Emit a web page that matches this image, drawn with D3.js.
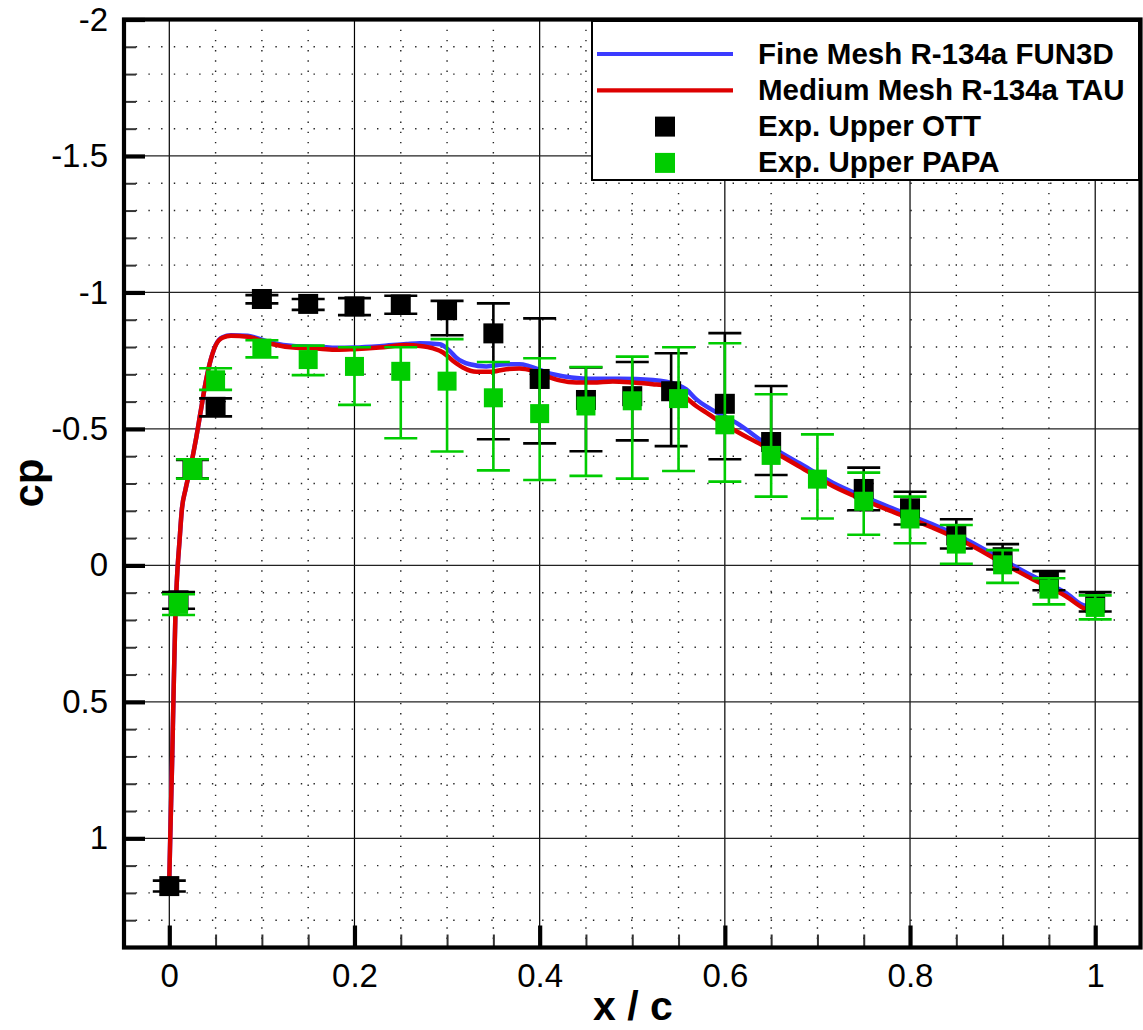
<!DOCTYPE html>
<html>
<head>
<meta charset="utf-8">
<script src="https://cdn.jsdelivr.net/npm/d3@7"></script>
<style>
  html, body { margin: 0; padding: 0; background: #fff; }
  svg { display: block; }
  text { font-family: "Liberation Sans", Arial, Helvetica, sans-serif; }
</style>
</head>
<body>
<svg id="chart" width="1143" height="1030"></svg>
<script>
// ---------------- data ----------------
const seriesNames = ["Fine Mesh R-134a FUN3D", "Medium Mesh R-134a TAU", "Exp. Upper OTT", "Exp. Upper PAPA"];

// TAU (medium mesh) upper-surface cp
const tauX = [0, 0.001, 0.003, 0.0047, 0.0066, 0.0083, 0.011, 0.0137, 0.0175, 0.0229, 0.0284, 0.0338, 0.0393, 0.0447, 0.0502, 0.0574, 0.0666, 0.0846, 0.0943, 0.112, 0.134, 0.1626, 0.1806, 0.1986, 0.227, 0.256, 0.2706, 0.285, 0.2957, 0.3065, 0.317, 0.3317, 0.346, 0.364, 0.378, 0.393, 0.407, 0.4216, 0.4396, 0.4575, 0.479, 0.5007, 0.522, 0.5367, 0.5475, 0.558, 0.569, 0.58, 0.5907, 0.6086, 0.6446, 0.6806, 0.7165, 0.7526, 0.7885, 0.8245, 0.8605, 0.8964, 0.9324, 0.9684, 0.99, 1.0];
const tauCp = [1.15, 1.0, 0.726, 0.455, 0.183, 0.048, -0.088, -0.209, -0.278, -0.359, -0.455, -0.562, -0.671, -0.753, -0.807, -0.834, -0.841, -0.838, -0.829, -0.81, -0.798, -0.794, -0.79, -0.792, -0.798, -0.807, -0.804, -0.795, -0.78, -0.749, -0.725, -0.709, -0.709, -0.719, -0.721, -0.712, -0.694, -0.678, -0.67, -0.67, -0.674, -0.67, -0.664, -0.658, -0.645, -0.615, -0.584, -0.56, -0.535, -0.499, -0.432, -0.362, -0.291, -0.236, -0.187, -0.138, -0.083, -0.016, 0.051, 0.113, 0.161, 0.17];

// FUN3D (fine mesh) upper-surface cp
const fun3dX = [0, 0.001, 0.003, 0.0047, 0.0066, 0.0083, 0.011, 0.0137, 0.0175, 0.0229, 0.0284, 0.0338, 0.0393, 0.0447, 0.0502, 0.0574, 0.0666, 0.0846, 0.0943, 0.112, 0.134, 0.1626, 0.1806, 0.1986, 0.227, 0.256, 0.2706, 0.2921, 0.3029, 0.31, 0.3245, 0.3425, 0.364, 0.378, 0.4144, 0.4504, 0.4863, 0.5223, 0.5475, 0.5583, 0.569, 0.5835, 0.6015, 0.612, 0.6446, 0.6806, 0.7165, 0.7526, 0.7885, 0.8245, 0.8605, 0.8964, 0.9324, 0.9684, 0.99, 1.0];
const fun3dCp = [1.15, 1.0, 0.726, 0.455, 0.183, 0.048, -0.088, -0.209, -0.278, -0.359, -0.455, -0.562, -0.671, -0.753, -0.808, -0.836, -0.843, -0.841, -0.833, -0.815, -0.804, -0.801, -0.797, -0.798, -0.803, -0.811, -0.814, -0.81, -0.786, -0.761, -0.737, -0.729, -0.737, -0.737, -0.7, -0.684, -0.684, -0.679, -0.663, -0.645, -0.609, -0.575, -0.542, -0.523, -0.445, -0.374, -0.303, -0.248, -0.199, -0.15, -0.095, -0.028, 0.039, 0.101, 0.148, 0.10];

// Experiment OTT (black): x, cp, lower / upper error bounds
const ottX  = [0, 0.01, 0.025, 0.05, 0.1, 0.15, 0.2, 0.25, 0.3, 0.35, 0.4, 0.45, 0.5, 0.542, 0.6, 0.65, 0.75, 0.8, 0.85, 0.9, 0.95, 1.0];
const ottCp = [1.175, 0.128, -0.352, -0.581, -0.976, -0.958, -0.949, -0.956, -0.935, -0.85, -0.683, -0.606, -0.62, -0.638, -0.592, -0.452, -0.28, -0.209, -0.11, -0.03, 0.06, 0.138];
const ottLo = [1.155, 0.098, -0.386, -0.612, -0.99, -0.976, -0.979, -0.988, -0.969, -0.96, -0.905, -0.725, -0.745, -0.777, -0.851, -0.657, -0.358, -0.27, -0.169, -0.078, 0.021, 0.098];
const ottHi = [1.195, 0.159, -0.319, -0.546, -0.96, -0.936, -0.917, -0.922, -0.843, -0.462, -0.447, -0.418, -0.458, -0.437, -0.389, -0.331, -0.202, -0.15, -0.062, 0.015, 0.091, 0.169];

// Experiment PAPA (green)
const papaX  = [0.01, 0.025, 0.05, 0.1, 0.15, 0.2, 0.25, 0.3, 0.35, 0.4, 0.45, 0.5, 0.55, 0.6, 0.65, 0.7, 0.75, 0.8, 0.85, 0.9, 0.95, 1.0];
const papaCp = [0.143, -0.352, -0.68, -0.796, -0.754, -0.729, -0.711, -0.675, -0.614, -0.556, -0.584, -0.603, -0.611, -0.515, -0.403, -0.316, -0.235, -0.17, -0.078, -0.002, 0.087, 0.154];
const papaLo = [0.106, -0.389, -0.722, -0.825, -0.805, -0.799, -0.799, -0.829, -0.745, -0.759, -0.727, -0.765, -0.799, -0.814, -0.627, -0.48, -0.34, -0.252, -0.148, -0.056, 0.047, 0.11];
const papaHi = [0.182, -0.318, -0.643, -0.762, -0.697, -0.588, -0.466, -0.417, -0.348, -0.313, -0.328, -0.318, -0.346, -0.307, -0.252, -0.172, -0.112, -0.081, -0.006, 0.064, 0.143, 0.198];

// axis ticks
const xMajor = [0, 0.2, 0.4, 0.6, 0.8, 1];
const xLabels = ["0", "0.2", "0.4", "0.6", "0.8", "1"];
const yMajor = [-2, -1.5, -1, -0.5, 0, 0.5, 1];
const yLabels = ["-2", "-1.5", "-1", "-0.5", "0", "0.5", "1"];

// ---------------- chart ----------------
const svg = d3.select("#chart");
const L = 123, R = 1141.5, T = 19.5, B = 947.5;
const x = d3.scaleLinear().domain([-0.05, 1.05]).range([L, R]);
const y = d3.scaleLinear().domain([-2, 1.4]).range([T, B]);

const BLUE = "#3b3bff", RED = "#dd0000", GREEN = "#00cc00";

// minor dotted grid
const xMinor = d3.range(-0.05, 1.05001, 0.05).map(v => +v.toFixed(2)).filter(v => v > -0.05 && v < 1.05 && !xMajor.some(m => Math.abs(m - v) < 1e-6));
const yMinor = d3.range(-1.9, 1.35, 0.1).map(v => +v.toFixed(1)).filter(v => !yMajor.some(m => Math.abs(m - v) < 1e-6));
const grid = svg.append("g");
grid.selectAll(".vminor").data(xMinor).join("line")
  .attr("x1", d => x(d)).attr("x2", d => x(d)).attr("y1", T).attr("y2", B)
  .attr("stroke", "#222").attr("stroke-width", 1.4).attr("stroke-dasharray", "1.4 8.8");
grid.selectAll(".hminor").data(yMinor).join("line")
  .attr("x1", L).attr("x2", R).attr("y1", d => y(d)).attr("y2", d => y(d))
  .attr("stroke", "#222").attr("stroke-width", 1.4).attr("stroke-dasharray", "1.4 11.3");
// major grid
grid.selectAll(".vmajor").data(xMajor).join("line")
  .attr("x1", d => x(d)).attr("x2", d => x(d)).attr("y1", T).attr("y2", B)
  .attr("stroke", "#000").attr("stroke-width", 1.2);
grid.selectAll(".hmajor").data(yMajor).join("line")
  .attr("x1", L).attr("x2", R).attr("y1", d => y(d)).attr("y2", d => y(d))
  .attr("stroke", "#222").attr("stroke-width", 1.2);

// ticks (inward) via d3 axes
const xMinorTicks = d3.range(0, 1.0001, 0.05).map(v => +v.toFixed(2)).filter(v => !xMajor.some(m => Math.abs(m - v) < 1e-6));
const yMinorTicks = d3.range(-2, 1.4, 0.1).map(v => +v.toFixed(1)).filter(v => !yMajor.some(m => Math.abs(m - v) < 1e-6));

function styleTicks(g, w, col) {
  g.select(".domain").remove();
  g.selectAll(".tick line").attr("stroke", col).attr("stroke-width", w);
  g.selectAll(".tick text").remove();
}
svg.append("g").attr("transform", `translate(0,${B})`)
  .call(d3.axisBottom(x).tickValues(xMinorTicks).tickSize(-13))
  .call(g => styleTicks(g, 2, "#333"));
svg.append("g").attr("transform", `translate(0,${B})`)
  .call(d3.axisBottom(x).tickValues(xMajor).tickSize(-22))
  .call(g => styleTicks(g, 4.2, "#000"));
svg.append("g").attr("transform", `translate(${L},0)`)
  .call(d3.axisLeft(y).tickValues(yMinorTicks).tickSize(-13))
  .call(g => styleTicks(g, 2, "#333"));
svg.append("g").attr("transform", `translate(${L},0)`)
  .call(d3.axisLeft(y).tickValues(yMajor).tickSize(-22))
  .call(g => styleTicks(g, 4.2, "#000"));

// tick labels
const xl = svg.append("g").attr("transform", `translate(0,${B})`)
  .call(d3.axisBottom(x).tickValues(xMajor).tickSize(0).tickPadding(16).tickFormat((d, i) => xLabels[i]));
xl.select(".domain").remove();
xl.selectAll("text").attr("font-size", 33).attr("fill", "#000")
  .style("font-family", '"Liberation Sans", Arial, sans-serif');
const yl = svg.append("g").attr("transform", `translate(${L},0)`)
  .call(d3.axisLeft(y).tickValues(yMajor).tickSize(0).tickPadding(15).tickFormat((d, i) => yLabels[i]));
yl.select(".domain").remove();
yl.selectAll("text").attr("font-size", 33).attr("fill", "#000")
  .style("font-family", '"Liberation Sans", Arial, sans-serif');

// axis titles
svg.append("text").attr("x", 633).attr("y", 1020).attr("text-anchor", "middle")
  .attr("font-size", 41).attr("font-weight", "bold").text("x / c");
svg.append("text").attr("transform", "translate(43,483) rotate(-90)").attr("text-anchor", "middle")
  .attr("font-size", 42).attr("font-weight", "bold").text("cp");

// CFD lines
const line = d3.line().x(d => x(d[0])).y(d => y(d[1])).curve(d3.curveMonotoneX);
svg.append("path").datum(d3.zip(fun3dX, fun3dCp)).attr("d", line)
  .attr("fill", "none").attr("stroke", BLUE).attr("stroke-width", 4.5).attr("stroke-linejoin", "round");
svg.append("path").datum(d3.zip(tauX, tauCp)).attr("d", line)
  .attr("fill", "none").attr("stroke", RED).attr("stroke-width", 4.5).attr("stroke-linejoin", "round");

// experimental points with error bars
function expSeries(xs, cps, lo, hi, col, size, capW) {
  const data = xs.map((v, i) => ({ x: v, cp: cps[i], lo: lo[i], hi: hi[i] }));
  const g = svg.append("g");
  const eb = g.selectAll("g.eb").data(data).join("g");
  eb.append("line").attr("x1", d => x(d.x)).attr("x2", d => x(d.x))
    .attr("y1", d => y(d.lo)).attr("y2", d => y(d.hi)).attr("stroke", col).attr("stroke-width", 2.6);
  eb.append("line").attr("x1", d => x(d.x) - capW / 2).attr("x2", d => x(d.x) + capW / 2)
    .attr("y1", d => y(d.lo)).attr("y2", d => y(d.lo)).attr("stroke", col).attr("stroke-width", 2.6);
  eb.append("line").attr("x1", d => x(d.x) - capW / 2).attr("x2", d => x(d.x) + capW / 2)
    .attr("y1", d => y(d.hi)).attr("y2", d => y(d.hi)).attr("stroke", col).attr("stroke-width", 2.6);
  eb.append("rect").attr("x", d => x(d.x) - size / 2).attr("y", d => y(d.cp) - size / 2)
    .attr("width", size).attr("height", size).attr("fill", col);
}
expSeries(ottX, ottCp, ottLo, ottHi, "#000", 20, 33);
expSeries(papaX, papaCp, papaLo, papaHi, GREEN, 19, 33);

// frame
svg.append("rect").attr("x", L + 1).attr("y", T).attr("width", R - L - 2).attr("height", B - T)
  .attr("fill", "none").attr("stroke", "#000").attr("stroke-width", 4.2);

// legend
const lg = svg.append("g");
lg.append("rect").attr("x", 592).attr("y", 21).attr("width", 547).attr("height", 159)
  .attr("fill", "#fff").attr("stroke", "#000").attr("stroke-width", 2);
const legendRows = [
  { name: seriesNames[0], type: "line", col: BLUE },
  { name: seriesNames[1], type: "line", col: RED },
  { name: seriesNames[2], type: "sq", col: "#000" },
  { name: seriesNames[3], type: "sq", col: GREEN }
];
legendRows.forEach((r, i) => {
  const cy = 54 + i * 36.3;
  if (r.type === "line") {
    lg.append("line").attr("x1", 597).attr("x2", 733).attr("y1", cy).attr("y2", cy)
      .attr("stroke", r.col).attr("stroke-width", 4.2);
  } else {
    lg.append("rect").attr("x", 655).attr("y", cy - 10).attr("width", 20).attr("height", 20).attr("fill", r.col);
  }
  lg.append("text").attr("x", 758).attr("y", cy + 9.5).attr("font-size", 29.5).attr("font-weight", "bold")
    .attr("fill", "#000").text(r.name);
});
</script>
</body>
</html>
